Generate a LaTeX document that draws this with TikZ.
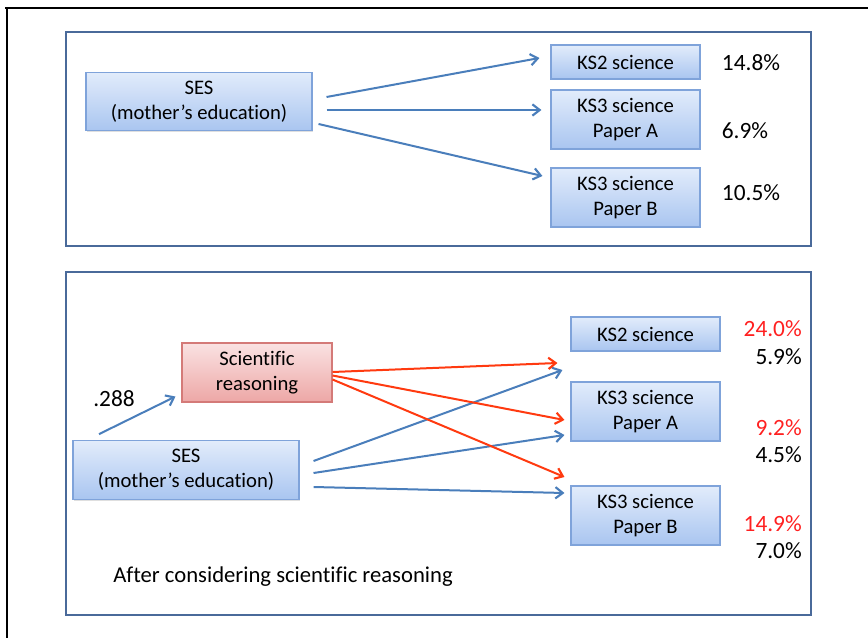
\documentclass[tikz,border=0pt]{standalone}
\usepackage{fontspec}
\setmainfont{Carlito}[Ligatures=NoCommon]
\usetikzlibrary{arrows.meta,shadows}
\definecolor{panelc}{HTML}{4A6A9A}
\definecolor{bluearr}{HTML}{4A7EBB}
\definecolor{redarr}{HTML}{FF3A10}
\definecolor{bbord}{HTML}{7FA3DA}
\definecolor{btop}{HTML}{E2ECFB}
\definecolor{bbot}{HTML}{A9C5F0}
\definecolor{rbord}{HTML}{D47A78}
\definecolor{rtop}{HTML}{FAE2E2}
\definecolor{rbot}{HTML}{EDA7A6}
\definecolor{pctred}{HTML}{FF2020}
\tikzset{
  panel/.style={draw=panelc, line width=1.5pt},
  bbox/.style={draw=bbord, line width=0.8pt, top color=btop, bottom color=bbot,
    align=center, inner sep=0pt, minimum width=111.75pt,
    font=\fontsize{15.5}{18.5}\selectfont,
    drop shadow={shadow xshift=0.8pt, shadow yshift=-1pt, opacity=0.25}},
  rbox/.style={draw=rbord, line width=0.8pt, top color=rtop, bottom color=rbot,
    align=center, inner sep=0pt, minimum width=112.5pt, minimum height=44.25pt,
    font=\fontsize{15.5}{18.5}\selectfont,
    drop shadow={shadow xshift=0.8pt, shadow yshift=-1pt, opacity=0.25}},
  sesbox/.style={bbox, minimum width=169.5pt, minimum height=44pt},
  onel/.style={bbox, minimum height=25.5pt},
  twol/.style={bbox, minimum height=44.25pt},
  barr/.style={draw=bluearr, line width=1.5pt, -{Straight Barb[length=5.5pt,width=8.5pt,line width=1.6pt]}},
  rarr/.style={draw=redarr, line width=1.5pt, -{Straight Barb[length=5.5pt,width=8.5pt,line width=1.6pt]}},
  pct/.style={inner sep=0pt, font=\fontsize{17.5}{21}\selectfont},
  pctr/.style={pct, text=pctred, anchor=east},
  pctk/.style={pct, anchor=east},
}
\begin{document}
\begin{tikzpicture}[x=0.75pt, y=-0.75pt]
\useasboundingbox (0,0) rectangle (868,638);
% outer frame lines
\draw[black, line width=1pt] (5,8) -- (868,8);
\draw[black, line width=1.5pt] (7,8) -- (7,638);
% panels
\draw[panel] (66,32) rectangle (811,246);
\draw[panel] (66,272) rectangle (811,615);
% top panel nodes
\node[sesbox] (ses1) at (199,101.5) {SES\\(mother’s education)};
\node[onel] (a1) at (625.5,62) {KS2 science};
\node[twol] (b1) at (625.5,119.5) {KS3 science\\Paper A};
\node[twol] (c1) at (625.5,197.5) {KS3 science\\Paper B};
\node[pct] (pa1) at (751,63) {14.8\%};
\node[pct] (pb1) at (745,131) {6.9\%};
\node[pct] (pc1) at (751,193) {10.5\%};
\draw[barr] ([shift={(14,-4.5)}]ses1.east) -- ([shift={(-11,-4)}]a1.west);
\draw[barr] ([shift={(14,8.5)}]ses1.east) -- ([shift={(-9,-9.5)}]b1.west);
\draw[barr] ([shift={(6,22.5)}]ses1.east) -- ([shift={(-8,-21.5)}]c1.west);
% bottom panel nodes
\node[rbox] (sr) at (257,372.5) {Scientific\\reasoning};
\node[sesbox] (ses2) at (186,470) {SES\\(mother’s education)};
\node[onel] (a2) at (645.5,334) {KS2 science};
\node[twol] (b2) at (645.5,411.5) {KS3 science\\Paper A};
\node[twol] (c2) at (645.5,515.5) {KS3 science\\Paper B};
\node[pctr] (pa2r) at (802,329) {24.0\%};
\node[pctk] (pa2k) at (802,357) {5.9\%};
\node[pctr] (pb2r) at (802,428) {9.2\%};
\node[pctk] (pb2k) at (802,455) {4.5\%};
\node[pctr] (pc2r) at (802,524) {14.9\%};
\node[pctk] (pc2k) at (802,551) {7.0\%};
\node[pct] (coef) at (114,399) {.288};
\node[pct, anchor=west, font=\fontsize{17}{20}\selectfont] (cap) at (113,577) {After considering scientific reasoning};
% arrows
\draw[barr] ([shift={(-87,-6)}]ses2.north) -- ([shift={(-6,-6)}]sr.south west);
\draw[barr] ([shift={(14,-9)}]ses2.east) -- ([shift={(-8,36)}]a2.west);
\draw[barr] ([shift={(14,3)}]ses2.east) -- ([shift={(-6,23.5)}]b2.west);
\draw[barr] ([shift={(14,17)}]ses2.east) -- ([shift={(-6,-22.5)}]c2.west);
\draw[rarr] ([shift={(0,-0.5)}]sr.east) -- ([shift={(-13,29)}]a2.west);
\draw[rarr] ([shift={(0,3)}]sr.east) -- ([shift={(-6,8.5)}]b2.west);
\draw[rarr] ([shift={(0,7)}]sr.east) -- ([shift={(-6,-38.5)}]c2.west);
\end{tikzpicture}
\end{document}
